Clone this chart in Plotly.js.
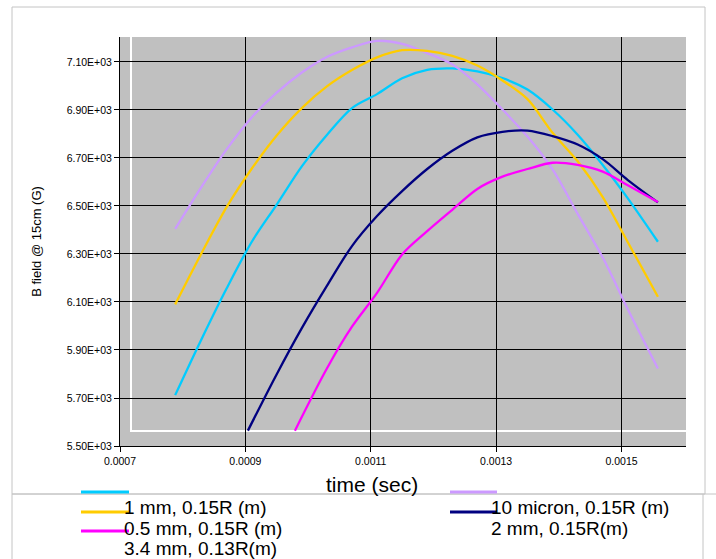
<!DOCTYPE html>
<html>
<head>
<meta charset="utf-8">
<script src="https://cdn.plot.ly/plotly-3.0.1.min.js"></script>
<style>html,body{margin:0;padding:0;background:#fff;}#chart{width:716px;height:559px;}</style>
</head>
<body>
<div id="chart"></div>
<script>
// ---- data ----
const seriesNames = ["1 mm, 0.15R (m)", "10 micron, 0.15R (m)", "0.5 mm, 0.15R (m)", "2 mm, 0.15R(m)", "3.4 mm, 0.13R(m)"];

const timeA = [0.000788, 0.00083, 0.00087, 0.00091, 0.00095, 0.00099, 0.00103, 0.00107, 0.00111, 0.00115, 0.00119, 0.00123, 0.00127, 0.00131, 0.00135, 0.00139, 0.00143, 0.00147, 0.00151, 0.001558];
const b1mm     = [5712, 5945, 6156, 6350, 6506, 6665, 6796, 6908, 6966, 7032, 7067, 7073, 7061, 7033, 6985, 6902, 6797, 6671, 6532, 6351];
const b10micron= [6405, 6580, 6736, 6869, 6972, 7056, 7121, 7161, 7188, 7175, 7137, 7090, 7007, 6902, 6789, 6652, 6467, 6285, 6070, 5823];
const b05mm    = [6090, 6303, 6495, 6655, 6794, 6908, 6998, 7066, 7119, 7149, 7146, 7125, 7085, 7023, 6945, 6805, 6686, 6537, 6349, 6122];

const timeB = [0.000904, 0.00095, 0.00099, 0.00103, 0.00107, 0.00111, 0.00115, 0.00119, 0.00123, 0.00127, 0.00131, 0.00135, 0.00139, 0.00143, 0.00147, 0.00151, 0.001558];
const b2mm     = [5564, 5799, 5991, 6167, 6333, 6458, 6562, 6654, 6730, 6786, 6809, 6814, 6791, 6756, 6695, 6608, 6515];

const timeC = [0.000979, 0.00103, 0.00107, 0.00111, 0.00115, 0.00119, 0.00123, 0.00127, 0.00131, 0.00135, 0.00139, 0.00143, 0.00147, 0.00151, 0.001558];
const b34mm    = [5564, 5823, 5997, 6138, 6298, 6395, 6484, 6571, 6622, 6654, 6680, 6671, 6643, 6586, 6517];

const xTickVals = [0.0007, 0.0009, 0.0011, 0.0013, 0.0015];
const xTickText = ["0.0007", "0.0009", "0.0011", "0.0013", "0.0015"];
const yTickVals = [5500, 5700, 5900, 6100, 6300, 6500, 6700, 6900, 7100];
const yTickText = ["5.50E+03", "5.70E+03", "5.90E+03", "6.10E+03", "6.30E+03", "6.50E+03", "6.70E+03", "6.90E+03", "7.10E+03"];

const xTitle = "time (sec)";
const yTitle = "B field @ 15cm (G)";

// ---- styling ----
const colors = ["#00CCFF", "#CC99FF", "#FFCC00", "#000080", "#FF00FF"];
const FONT = "Liberation Sans, Arial, sans-serif";

const seriesX = [timeA, timeA, timeA, timeB, timeC];
const seriesY = [b1mm, b10micron, b05mm, b2mm, b34mm];

const traces = seriesNames.map((n, i) => ({
  type: "scatter", mode: "lines", name: n,
  x: seriesX[i], y: seriesY[i],
  line: {color: colors[i], width: 2.3, shape: "spline", smoothing: 0.9},
  showlegend: false, hoverinfo: "skip"
}));

// plot-area geometry in px (for decorations)
const M = {l: 120, r: 30, t: 37, b: 113};
const W = 716, H = 559;
const pw = W - M.l - M.r, ph = H - M.t - M.b;
const px = x => (x - M.l) / pw;
const py = y => (H - M.b - y) / ph;

const shapes = [];
const annotations = [];

// chart & legend frames
const gray = "#C4C4C4";
shapes.push({type: "rect", xref: "paper", yref: "paper", x0: px(12), x1: px(705), y0: py(7), y1: py(494), line: {color: gray, width: 1}, layer: "below"});
shapes.push({type: "line", xref: "paper", yref: "paper", x0: px(12), x1: px(716), y0: py(494), y1: py(494), line: {color: gray, width: 1}});
shapes.push({type: "line", xref: "paper", yref: "paper", x0: px(12), x1: px(12), y0: py(494), y1: py(570), line: {color: gray, width: 1}});
shapes.push({type: "line", xref: "paper", yref: "paper", x0: px(703), x1: px(703), y0: py(494), y1: py(570), line: {color: gray, width: 1}});

// inner white frame inside the plot area
shapes.push({type: "path", xref: "paper", yref: "paper",
  path: `M ${px(131)} ${1} L ${px(131)} ${py(431)} L 1 ${py(431)}`,
  line: {color: "#FFFFFF", width: 2}, layer: "below"});

// legend (2 columns, samples sit one row above their labels, as in the reference)
const legCols = [{x0: 81, x1: 129, tx: 123}, {x0: 450, x1: 497, tx: 490}];
const legLineRows = [492, 512, 531];
const legTextRows = [508, 528, 548];
seriesNames.forEach((n, i) => {
  const r = Math.floor(i / 2), c = i % 2;
  shapes.push({type: "line", xref: "paper", yref: "paper",
    x0: px(legCols[c].x0), x1: px(legCols[c].x1), y0: py(legLineRows[r]), y1: py(legLineRows[r]),
    line: {color: colors[i], width: 3}});
  annotations.push({xref: "paper", yref: "paper", x: px(legCols[c].tx), y: py(legTextRows[r]),
    xanchor: "left", yanchor: "middle", showarrow: false, text: n, borderpad: 0,
    font: {family: FONT, size: 19, color: "#000"}});
});

// x axis title (placed as in the reference, left of the plot centre)
annotations.push({xref: "paper", yref: "paper", x: px(372), y: py(484), xanchor: "center", yanchor: "middle",
  showarrow: false, text: xTitle, borderpad: 0, font: {family: FONT, size: 21, color: "#000"}});

const layout = {
  width: W, height: H,
  margin: M,
  paper_bgcolor: "#FFFFFF",
  plot_bgcolor: "#C0C0C0",
  font: {family: FONT, color: "#000"},
  showlegend: false,
  xaxis: {
    range: [0.0007, 0.0016028], tickvals: xTickVals, ticktext: xTickText,
    showgrid: true, gridcolor: "#000", gridwidth: 1, zeroline: false,
    showline: true, linecolor: "#000", linewidth: 1,
    ticks: "outside", ticklen: 5, tickcolor: "#000",
    tickfont: {family: FONT, size: 10.5, color: "#000"}
  },
  yaxis: {
    range: [5500, 7204], tickvals: yTickVals, ticktext: yTickText,
    showgrid: true, gridcolor: "#000", gridwidth: 1, zeroline: false,
    showline: true, linecolor: "#000", linewidth: 1,
    ticks: "outside", ticklen: 5, tickcolor: "#000",
    tickfont: {family: FONT, size: 10.5, color: "#000"},
    title: {text: yTitle, font: {family: FONT, size: 13, color: "#000"}, standoff: 22}
  },
  shapes: shapes,
  annotations: annotations
};

Plotly.newPlot("chart", traces, layout, {staticPlot: true, displayModeBar: false});
</script>
</body>
</html>
